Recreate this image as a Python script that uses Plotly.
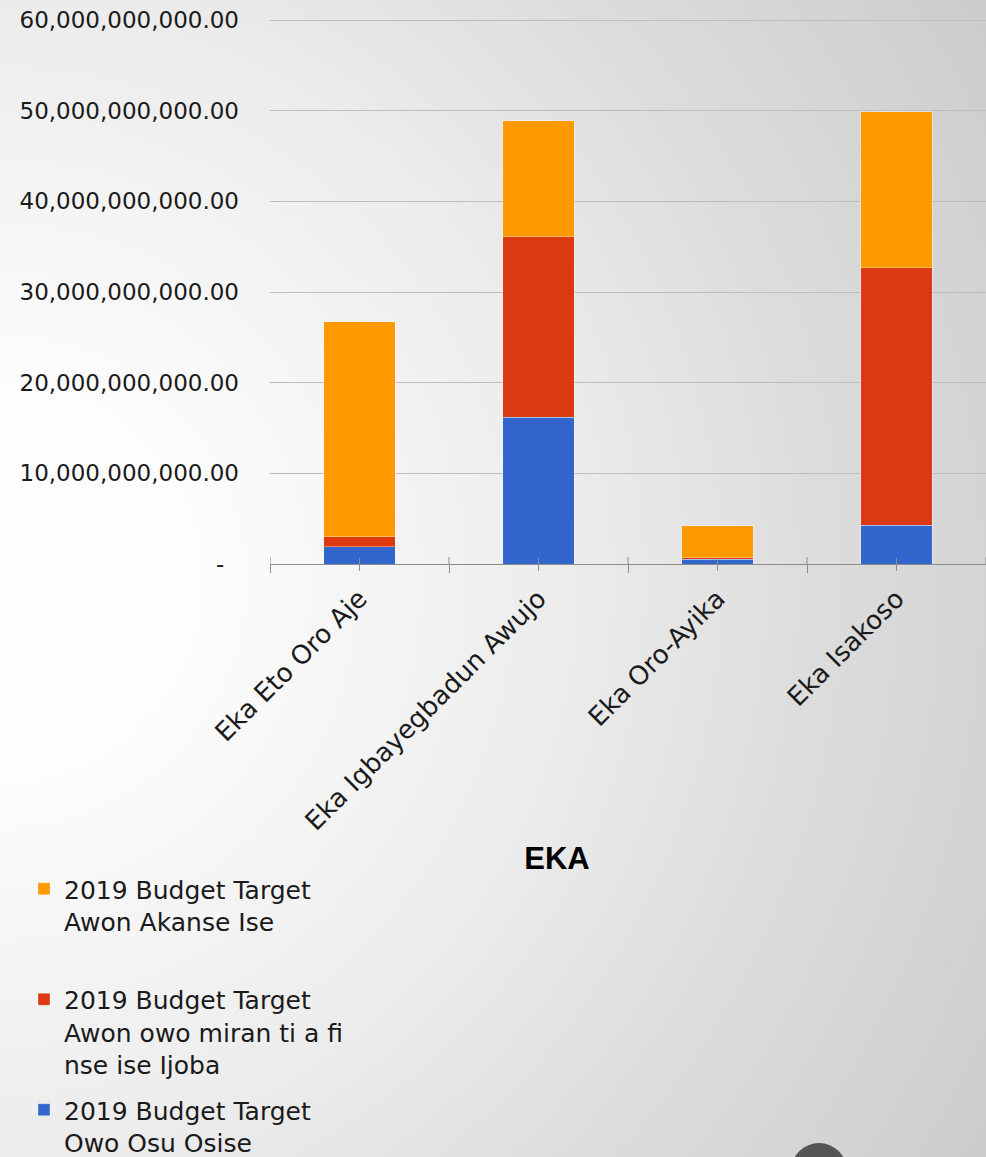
import base64, struct, zlib
import numpy as np
import plotly.graph_objects as go

categories = ["Eka Eto Oro Aje", "Eka Igbayegbadun Awujo", "Eka Oro-Ayika", "Eka Isakoso"]
owo_osu_osise = [1.9e9, 16.2e9, 0.5e9, 4.3e9]
awon_owo_miran = [1.1e9, 19.9e9, 0.2e9, 28.4e9]
awon_akanse_ise = [23.7e9, 12.8e9, 3.5e9, 17.2e9]
series_names = [
    "2019 Budget Target<br>Owo Osu Osise",
    "2019 Budget Target<br>Awon owo miran ti a fi<br>nse ise Ijoba",
    "2019 Budget Target<br>Awon Akanse Ise<br>&nbsp;",
]
series_colors = ["#3366CC", "#DC3912", "#FF9900"]
legend_ranks = [3, 2, 1]
y_tickvals = [0, 10e9, 20e9, 30e9, 40e9, 50e9, 60e9]
y_ticktext = ["-\u00a0\u00a0", "10,000,000,000.00", "20,000,000,000.00", "30,000,000,000.00",
              "40,000,000,000.00", "50,000,000,000.00", "60,000,000,000.00"]

W, H = 986, 1157
ML, MR, MT, MB = 270, 0, 19, 593
PW, PH = W - ML - MR, H - MT - MB


# ---------- background gradient as PNG ----------
def make_png(arr):
    h, w = arr.shape
    raw = b"".join(b"\x00" + arr[i].tobytes() for i in range(h))
    def chunk(t, d):
        c = struct.pack(">I", len(d)) + t + d
        return c + struct.pack(">I", zlib.crc32(t + d) & 0xffffffff)
    png = b"\x89PNG\r\n\x1a\n"
    png += chunk(b"IHDR", struct.pack(">IIBBBBB", w, h, 8, 0, 0, 0, 0))
    png += chunk(b"IDAT", zlib.compress(raw, 9))
    png += chunk(b"IEND", b"")
    return "data:image/png;base64," + base64.b64encode(png).decode()

sc = 2
gw, gh = W // sc, H // sc
yy, xx = np.mgrid[0:gh, 0:gw]
r = np.sqrt((xx * sc) ** 2 + (yy * sc - 580) ** 2)
v = np.interp(r, [0, 200, 580, 800, 1200], [255, 253, 236, 222, 202])
bg = make_png(np.clip(v, 0, 255).astype(np.uint8))

fig = go.Figure()
for name, vals, col, rk in zip(series_names, [owo_osu_osise, awon_owo_miran, awon_akanse_ise],
                               series_colors, legend_ranks):
    fig.add_trace(go.Bar(
        x=categories, y=vals, name=name, legendgroup=name, legendrank=rk,
        marker=dict(color=col, line=dict(color="rgba(255,255,255,0.35)", width=1)),
    ))

fnt = "DejaVu Sans, Century Gothic, sans-serif"

shapes = []
for i in range(len(categories) + 1):
    shapes.append(dict(type="line", xref="x", yref="y domain",
                       x0=i - 0.5, x1=i - 0.5, y0=0, y1=7 / PH,
                       line=dict(color="#8c8c8c", width=1)))
for c in categories:
    shapes.append(dict(type="line", xref="x", yref="y domain",
                       x0=c, x1=c, y0=-7 / PH, y1=6 / PH,
                       line=dict(color="#8c8c8c", width=1)))
shapes.append(dict(type="circle", xref="paper", yref="paper",
                   x0=(791 - ML) / PW, x1=(847 - ML) / PW,
                   y0=(MT + PH - 1199) / PH, y1=(MT + PH - 1143) / PH,
                   fillcolor="#555555", line=dict(width=0), layer="above"))

fig.update_layout(
    width=W, height=H,
    margin=dict(l=ML, r=MR, t=MT, b=MB, pad=0, autoexpand=False),
    barmode="stack", bargap=0.6,
    paper_bgcolor="#e8e8e8", plot_bgcolor="rgba(0,0,0,0)",
    font=dict(family=fnt, color="#1a1a1a"),
    images=[dict(source=bg, xref="paper", yref="paper",
                 x=-ML / PW, y=1 + MT / PH, sizex=W / PW, sizey=H / PH,
                 sizing="stretch", xanchor="left", yanchor="top", layer="below")],
    title=dict(text="<b>EKA</b>", xref="container", yref="container",
               x=557 / W, y=1 - 858 / H, xanchor="center", yanchor="middle",
               font=dict(family="Liberation Sans, Arial, sans-serif", size=31, color="#000000")),
    legend=dict(xref="container", yref="container", x=24 / W, y=1 - 866 / H,
                xanchor="left", yanchor="top", traceorder="grouped",
                valign="top", tracegroupgap=10, bgcolor="rgba(0,0,0,0)",
                font=dict(family=fnt, size=25, color="#1a1a1a")),
    shapes=shapes,
    showlegend=True,
)
fig.update_xaxes(
    type="category", range=[-0.5, 3.5], automargin=False,
    showline=True, linecolor="#8c8c8c", linewidth=1,
    tickson="boundaries", ticks="outside", ticklen=8, tickcolor="#8c8c8c",
    tickangle=-45, ticklabelstandoff=8,
    tickfont=dict(family=fnt, size=26, color="#1a1a1a"),
    showgrid=False,
)
fig.update_yaxes(
    range=[0, 60.12e9], tickvals=y_tickvals, ticktext=y_ticktext, automargin=False,
    showgrid=True, gridcolor="#bdbdbd", gridwidth=1,
    zeroline=False, showline=False, ticks="",
    ticklabelstandoff=30,
    tickfont=dict(family=fnt, size=23, color="#1a1a1a"),
)

fig.write_html("out.html", config={"displayModeBar": False},
               post_script="document.body.style.margin='0';document.body.style.overflow='hidden';")
